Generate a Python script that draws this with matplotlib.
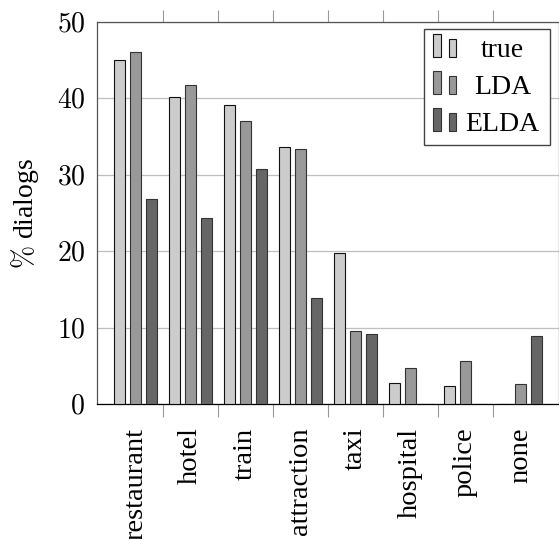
import matplotlib
matplotlib.use('Agg')
import matplotlib.pyplot as plt
import numpy as np
from matplotlib.legend_handler import HandlerBase
from matplotlib.patches import Rectangle

# values (% of dialogs per domain)
categories = ['restaurant', 'hotel', 'train', 'attraction', 'taxi', 'hospital', 'police', 'none']
true_vals = [45.0, 40.2, 39.2, 33.7, 19.7, 2.7, 2.3, 0.0]
lda_vals = [46.1, 41.7, 37.0, 33.4, 9.6, 4.7, 5.6, 2.6]
elda_vals = [26.8, 24.3, 30.7, 13.9, 9.2, 0.0, 0.0, 8.9]
series_names = ['true', 'LDA', 'ELDA']
fills = ['#cccccc', '#999999', '#666666']
edges = ['#111111', '#333333', '#333333']
y_ticks = [0, 10, 20, 30, 40, 50]

plt.rcParams['font.family'] = ['Liberation Serif', 'DejaVu Serif']
plt.rcParams['mathtext.fontset'] = 'cm'
plt.rcParams['font.size'] = 20


# pgfplots-style legend image: two small bars side by side
class TwoBars(HandlerBase):
    def create_artists(self, legend, orig_handle, xdescent, ydescent,
                       width, height, fontsize, trans):
        fc = orig_handle.get_facecolor()
        ec = orig_handle.get_edgecolor()
        bw = 0.28 * fontsize
        r1 = Rectangle((0, 0), bw, 0.83 * fontsize, facecolor=fc,
                       edgecolor=ec, lw=0.8, transform=trans)
        r2 = Rectangle((bw + 0.3 * fontsize, 0), bw * 0.9, 0.63 * fontsize,
                       facecolor=fc, edgecolor=ec, lw=0.8, transform=trans)
        return [r1, r2]


fig = plt.figure(figsize=(5.59, 5.39), dpi=100)
ax = fig.add_axes([97 / 559, 1 - 404 / 539, 462 / 559, 382 / 539])

x = np.arange(len(categories))
width = 0.19
offset = 0.29
handles = []
for i, vals in enumerate([true_vals, lda_vals, elda_vals]):
    b = ax.bar(x + (i - 1) * offset, vals, width, color=fills[i],
               edgecolor=edges[i], linewidth=0.8, label=series_names[i], zorder=3)
    handles.append(b.patches[0])

ax.set_xlim(-0.7, len(categories) - 1 + 0.7)
ax.set_ylim(0, 50)

ax.set_yticks(y_ticks)
ax.set_yticklabels(['$%d$' % t for t in y_ticks])
ax.tick_params(axis='y', length=0, pad=8.5, labelsize=20)
ax.grid(axis='y', color='#bfbfbf', linewidth=0.9, zorder=0)
ax.set_axisbelow(True)

# boundary ticks between groups, labels at group centres
ax.set_xticks(x[:-1] + 0.5)
ax.set_xticklabels([])
ax.tick_params(axis='x', which='major', direction='out', length=9, width=0.8,
               color='#999999', top=True, bottom=True)
ax.set_xticks(x, categories, minor=True)
ax.tick_params(axis='x', which='minor', length=0, pad=17, labelsize=20.5, labelrotation=90)

for s in ['top', 'left', 'right']:
    ax.spines[s].set_color('#555555')
    ax.spines[s].set_linewidth(0.9)
ax.spines['bottom'].set_color('black')
ax.spines['bottom'].set_linewidth(0.9)

ax.set_ylabel('$\\%$ dialogs', fontsize=20, labelpad=11)

leg = ax.legend(handles, series_names, handler_map={h: TwoBars() for h in handles},
                loc='upper right', bbox_to_anchor=(0.9805, 0.9817), borderaxespad=0,
                fancybox=False, framealpha=1, edgecolor='#444444', fontsize=20,
                handlelength=0.9, handletextpad=0.35, labelspacing=0.42,
                borderpad=0.3)
leg.get_frame().set_linewidth(1.0)

# centre the legend texts in their column like pgfplots does
renderer = fig.canvas.get_renderer()
texts = leg.get_texts()
widths = [t.get_window_extent(renderer).width for t in texts]
wmax = max(widths)
for t, w in zip(texts, widths):
    t.set_x((wmax - w) / 2 - 2)

fig.savefig('out.png', dpi=100)
